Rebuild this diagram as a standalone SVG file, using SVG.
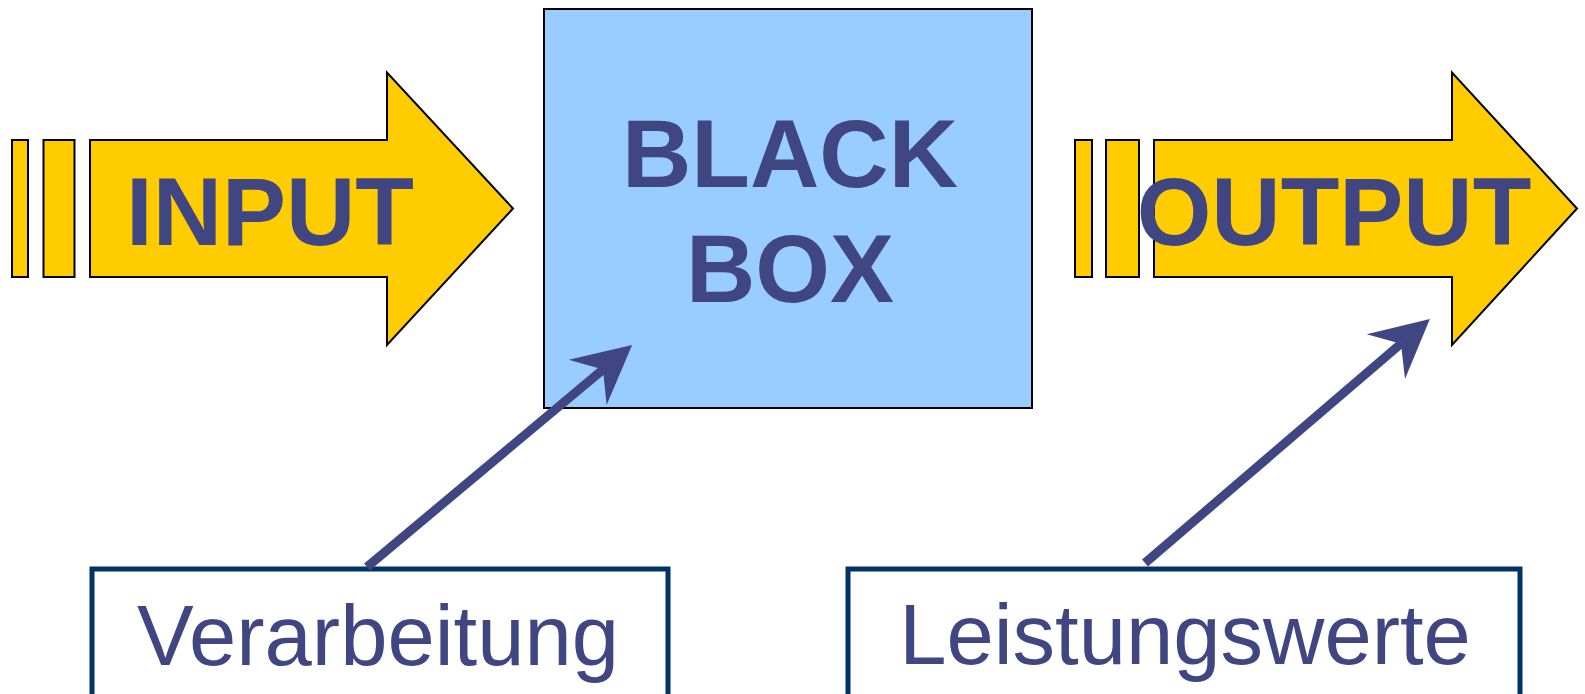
<svg xmlns="http://www.w3.org/2000/svg" width="1585" height="694" viewBox="0 0 1585 694">
<style>
.yel{fill:#FFCC00;stroke:#000;stroke-width:2;stroke-linejoin:miter}
.box{fill:#99CCFF;stroke:#000;stroke-width:2}
.lbl{fill:#fff;stroke:#003366;stroke-width:5}
.big{font-family:"Liberation Sans",Arial,sans-serif;font-weight:bold;font-size:96px;fill:#404682;text-anchor:middle}
.small{font-family:"Liberation Sans",Arial,sans-serif;font-size:85px;fill:#404682;text-anchor:middle}
.conn{fill:none;stroke:#404682;stroke-width:9;stroke-linecap:butt}
</style>
<defs>
<marker id="head" markerUnits="userSpaceOnUse" markerWidth="120" markerHeight="120" viewBox="-60 -60 120 120" refX="0" refY="0" orient="auto" overflow="visible">
<path d="M38,0 L-20,-29.5 L0,0 L-20,29.5 Z" fill="#404682"/>
</marker>
</defs>
<rect width="1585" height="694" fill="#fff"/>
<g id="input">
<rect class="yel" x="12" y="140" width="16" height="137"/>
<rect class="yel" x="43.5" y="140" width="31" height="137"/>
<polygon class="yel" points="90,140 387,140 387,72.5 513,208.5 387,345 387,277 90,277"/>
<text class="big" x="270" y="244.5">INPUT</text>
</g>
<g id="blackbox">
<rect class="box" x="544" y="9" width="488" height="399"/>
<text class="big" x="790" y="187">BLACK</text>
<text class="big" x="790" y="302">BOX</text>
</g>
<g id="output">
<rect class="yel" x="1075" y="140" width="17" height="137"/>
<rect class="yel" x="1106" y="140" width="33" height="137"/>
<polygon class="yel" points="1154,140 1452,140 1452,72.5 1577,208.5 1452,345 1452,277 1154,277"/>
<text class="big" x="1334" y="244.5">OUTPUT</text>
</g>
<g id="verarbeitung">
<rect class="lbl" x="92" y="569" width="576" height="160"/>
<text class="small" x="378" y="665">Verarbeitung</text>
</g>
<g id="leistungswerte">
<rect class="lbl" x="848" y="569" width="672" height="160"/>
<text class="small" x="1185" y="664">Leistungswerte</text>
</g>
<g id="connectors">
<line class="conn" x1="367" y1="567" x2="603" y2="369.5" marker-end="url(#head)"/>
<line class="conn" x1="1145" y1="563" x2="1401" y2="343.7" marker-end="url(#head)"/>
</g>
</svg>
